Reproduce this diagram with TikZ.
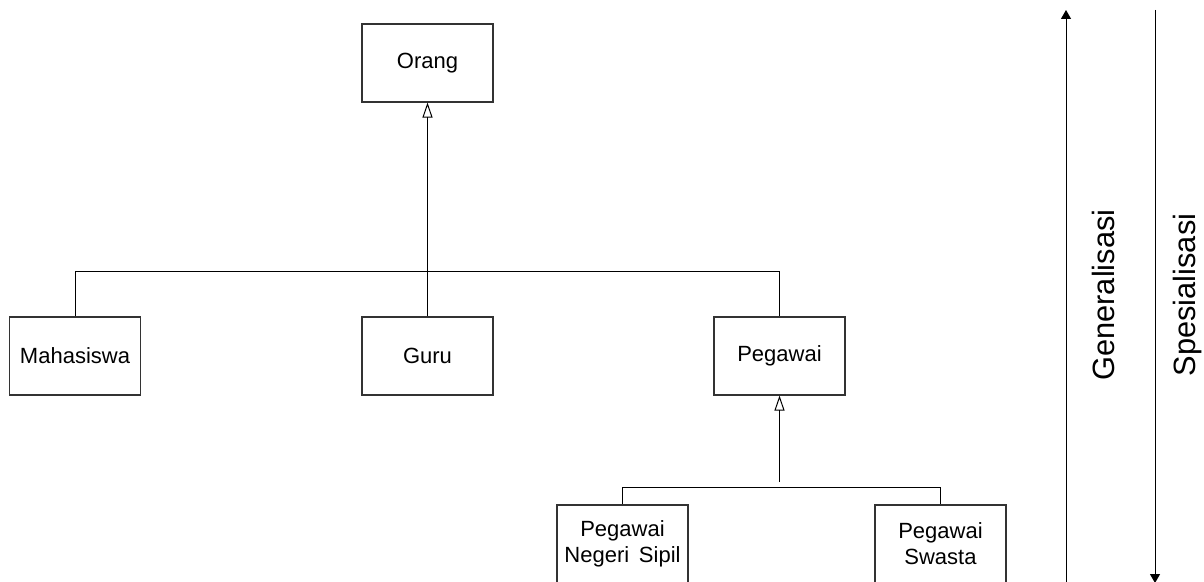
\documentclass[tikz,border=0pt]{standalone}
\usepackage{fontspec}
\setmainfont{Liberation Sans}
\usetikzlibrary{arrows.meta}
\begin{document}
\begin{tikzpicture}[x=0.5pt,y=-0.5pt,
  cls/.style={draw=black!80,line width=0.55pt,rectangle,minimum width=65.5pt,minimum height=39pt,inner sep=1pt,align=center,font=\fontsize{11}{13}\selectfont},
  conn/.style={draw=black,line width=0.5pt},
  inh/.style={conn,-{Triangle[open,length=7.5pt,width=5pt]}},
  dirarr/.style={conn,-{Triangle[length=4.5pt,width=5pt]}},
  side/.style={rotate=90,font=\fontsize{15.4}{18}\selectfont}]
\useasboundingbox (0,0) rectangle (1204,582);
\clip (0,0) rectangle (1204,582);
\node[cls] (orang) at (427.5,63) {Orang};
\node[cls] (maha) at (75,356) {Mahasiswa};
\node[cls] (guru) at (427.5,356) {Guru};
\node[cls] (peg) at (779.5,356) {Pegawai};
\node[cls] (pns) at (622.5,544) {Pegawai\\Negeri\ \,Sipil};
\node[cls] (sw) at (940.5,544) {Pegawai\\Swasta};
\coordinate (bar1) at (0,272);
\coordinate (bar2) at (0,487);
\coordinate (jn) at (779.5,482);
\draw[inh] (guru.north) -- (orang.south);
\draw[conn] (maha.north) -- (maha.north |- bar1) -| (peg.north);
\draw[inh] (jn) -- (peg.south);
\draw[conn] (pns.north) -- (pns.north |- bar2) -| (sw.north);
\coordinate (g1) at (1066,584);
\coordinate (g2) at (1066,10);
\coordinate (s1) at (1155,10);
\coordinate (s2) at (1155,583);
\draw[dirarr] (g1) -- (g2);
\draw[dirarr] (s1) -- (s2);
\node[side] (gen) at (1103,295) {Generalisasi};
\node[side] (spe) at (1188,295) {Spesialisasi};
\end{tikzpicture}
\end{document}
